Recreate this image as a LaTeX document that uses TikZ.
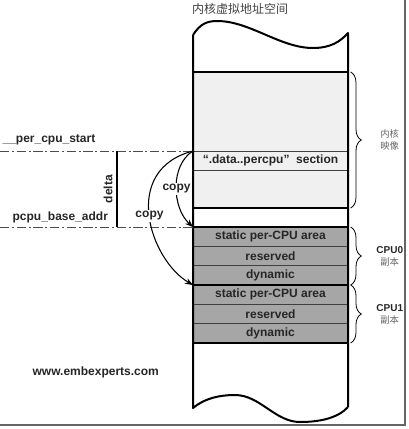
\documentclass[tikz,border=0pt]{standalone}
\usepackage{fontspec}
\setmainfont{Liberation Sans}
\newfontfamily\cjk{Noto Sans CJK SC}
\usetikzlibrary{positioning,arrows.meta,decorations.pathreplacing}
\tikzset{
  wall/.style={line width=1.5pt, line join=round},
  slot/.style={draw=black!75, line width=0.6pt, fill=black!35, minimum width=116.25pt,
    minimum height=14.5pt, inner sep=0pt, outer sep=0pt, font=\bfseries\fontsize{9}{10}\selectfont, text=black!85},
  addr/.style={draw=black!70, line width=0.6pt, dash pattern=on 7pt off 2pt on 1.5pt off 2pt},
  copyarrow/.style={-{Stealth[length=6pt,width=4.5pt]}, line width=0.8pt},
  part/.style={decorate, decoration={brace, amplitude=8pt}, line width=0.6pt},
  lbl/.style={font=\bfseries\fontsize{9}{10}\selectfont, text=black!85, inner sep=1pt},
  zh/.style={font=\cjk\fontsize{7}{9}\selectfont, text=black!60, align=center, inner sep=1pt},
}

\begin{document}
\begin{tikzpicture}[x=0.75pt, y=-0.75pt]
  \useasboundingbox (0,0) rectangle (408,429);
  \draw[black!60, line width=1.2pt] (405,0) -- (405,425) -- (0,425);

  \coordinate (tl) at (193,35);
  \coordinate (tr) at (348,33);
  \coordinate (bl) at (193,408);
  \coordinate (br) at (348,407);
  \coordinate (start) at (0,151);
  \coordinate (base) at (0,227);
  \coordinate (dtop) at (117,151);
  \coordinate (dbot) at (117,227);

  \node[font=\cjk\fontsize{9}{11}\selectfont, text=black!75] (title) at (240,9) {内核虚拟地址空间};

  \node[draw, line width=1.5pt, fill=black!6, minimum width=116.25pt, minimum height=102pt,
    inner sep=0pt, outer sep=0pt, anchor=north west] (img) at (193,72) {};
  \node[draw=black!75, line width=0.6pt, fill=black!6, minimum width=116.25pt, minimum height=14.25pt,
    inner sep=0pt, outer sep=0pt, anchor=north west, font=\bfseries\fontsize{9}{10}\selectfont, text=black!85]
    (sec) at (193,151) {“.data..percpu”\ \ section};

  \node[slot, anchor=north west] (s0) at (193,227) {static per-CPU area};
  \node[slot, below=0pt of s0] (r0) {reserved};
  \node[slot, below=0pt of r0] (d0) {dynamic};
  \node[slot, below=0pt of d0] (s1) {static per-CPU area};
  \node[slot, below=0pt of s1] (r1) {reserved};
  \node[slot, below=0pt of r1] (d1) {dynamic};
  \draw[line width=1.5pt] (s0.north west) rectangle (d0.south east);
  \draw[line width=1.5pt] (s1.north west) rectangle (d1.south east);

  \draw[wall] (tl) .. controls (200,24) and (207,21) .. (217,21)
    .. controls (250,21) and (280,48) .. (313,48)
    .. controls (330,48) and (340,42) .. (tr) -- (br);
  \draw[wall] (tl) -- (bl) .. controls (205,398) and (220,395) .. (235,395)
    .. controls (260,395) and (275,422) .. (300,422)
    .. controls (320,422) and (338,418) .. (br);

  \draw[part] ([xshift=2pt]img.north east) -- ([xshift=2pt]img.south east)
    node[zh, midway, right=21pt] {内核\\映像};
  \draw[part] ([xshift=2pt]s0.north east) -- ([xshift=2pt]d0.south east)
    node[zh, midway, right=18pt] {{\fontspec{Liberation Sans}\bfseries\fontsize{7.5}{9}\selectfont\color{black!85}CPU0}\\副本};
  \draw[part] ([xshift=2pt]s1.north east) -- ([xshift=2pt]d1.south east)
    node[zh, midway, right=18pt] {{\fontspec{Liberation Sans}\bfseries\fontsize{7.5}{9}\selectfont\color{black!85}CPU1}\\副本};

  \draw[addr] (start) -- (sec.north west);
  \draw[addr] (base) -- (s0.north west);
  \draw[line width=0.9pt] (dtop) -- (dbot) node[lbl, midway, left=2pt, rotate=90, anchor=south] {delta};
  \node[lbl, anchor=west] (pstart) at (1,140) {\_\_per\_cpu\_start};
  \node[lbl, anchor=west] (pbase) at (11,217) {pcpu\_base\_addr};

  \draw[copyarrow] (sec.north west) .. controls (170,165) and (172,208) .. (s0.north west)
    node[lbl, pos=0.52, fill=white] {copy};
  \draw[copyarrow] (sec.north west) .. controls (120,170) and (150,260) .. (s1.north west)
    node[lbl, pos=0.5, fill=white] {copy};

  \node[lbl, anchor=west] (site) at (31,372) {www.embexperts.com};
\end{tikzpicture}
\end{document}
